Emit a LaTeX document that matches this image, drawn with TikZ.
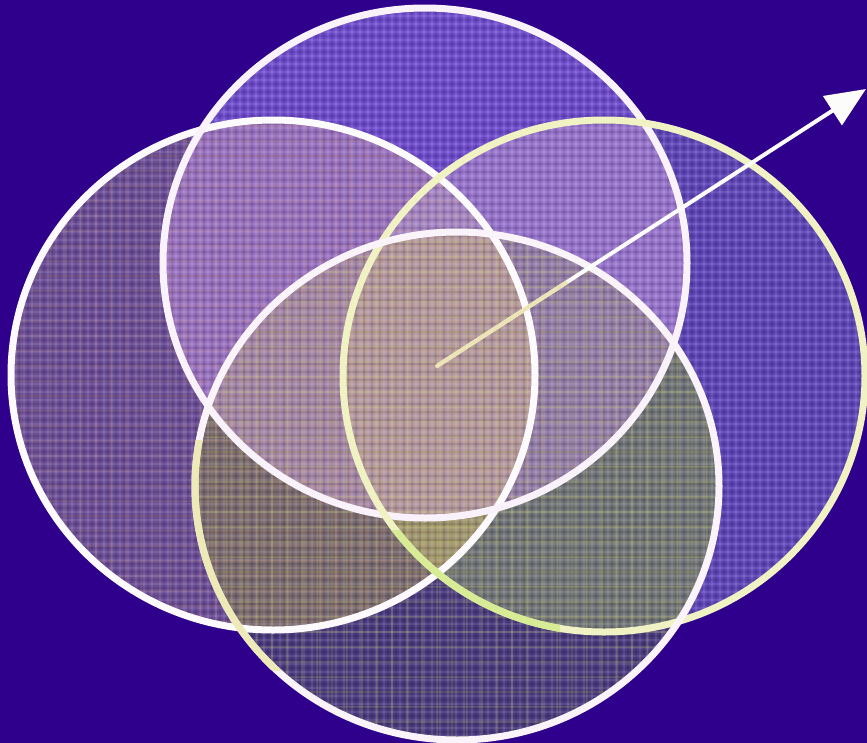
\documentclass[tikz,border=0pt]{standalone}
\usetikzlibrary{arrows.meta,calc}
\definecolor{bgviolet}{RGB}{46,0,140}
% single regions
\definecolor{cL}{RGB}{106,76,152}
\definecolor{cT}{RGB}{110,74,204}
\definecolor{cR}{RGB}{94,68,184}
\definecolor{cB}{RGB}{74,58,128}
% pairs
\definecolor{cLT}{RGB}{152,112,192}
\definecolor{cTR}{RGB}{150,114,204}
\definecolor{cLB}{RGB}{120,104,112}
\definecolor{cRB}{RGB}{112,116,120}
\definecolor{cLR}{RGB}{150,124,170}
\definecolor{cTB}{RGB}{150,124,170}
% triples
\definecolor{cLTR}{RGB}{164,132,196}
\definecolor{cLTB}{RGB}{162,132,166}
\definecolor{cTRB}{RGB}{148,124,168}
\definecolor{cLRB}{RGB}{158,148,112}
% all four
\definecolor{cAll}{RGB}{178,150,160}
% texture threads
\definecolor{threadY}{RGB}{220,220,90}
\definecolor{threadO}{RGB}{230,170,110}
% edges
\definecolor{eL}{RGB}{252,250,252}
\definecolor{eT}{RGB}{250,242,250}
\definecolor{eR}{RGB}{240,242,196}
\definecolor{eRg}{RGB}{216,236,150}
\definecolor{eB}{RGB}{250,244,250}
\definecolor{eBc}{RGB}{238,234,184}
\definecolor{arrowcol}{RGB}{252,252,250}
\definecolor{arrowcream}{RGB}{236,228,180}
\tikzset{
  pL/.style={insert path={(5.46,-7.50) ellipse [x radius=5.24, y radius=5.10]}},
  pT/.style={insert path={(8.50,-5.26) ellipse [x radius=5.24, y radius=5.10]}},
  pR/.style={insert path={(12.08,-7.52) ellipse [x radius=5.22, y radius=5.12]}},
  pB/.style={insert path={(9.14,-9.72) ellipse [x radius=5.24, y radius=5.08]}},
  rim/.style={line width=0.14cm},
  arrowline/.style={draw=arrowcol, line width=0.08cm,
    -{Triangle[length=0.8cm, width=0.68cm]}},
  arrowfade/.style={draw=arrowcream, line width=0.08cm, line cap=round}
}
\begin{document}
\begin{tikzpicture}
\fill[bgviolet] (0,0) rectangle (17.34,-14.86);
\useasboundingbox (0,0) rectangle (17.34,-14.86);
% singles
\fill[cL, pL];
\fill[cT, pT];
\fill[cR, pR];
\fill[cB, pB];
% pairs
\begin{scope}\clip[pL]; \fill[cLT, pT];\end{scope}
\begin{scope}\clip[pL]; \fill[cLR, pR];\end{scope}
\begin{scope}\clip[pL]; \fill[cLB, pB];\end{scope}
\begin{scope}\clip[pT]; \fill[cTR, pR];\end{scope}
\begin{scope}\clip[pT]; \fill[cTB, pB];\end{scope}
\begin{scope}\clip[pR]; \fill[cRB, pB];\end{scope}
% triples
\begin{scope}\clip[pL]; \clip[pT]; \fill[cLTR, pR];\end{scope}
\begin{scope}\clip[pL]; \clip[pT]; \fill[cLTB, pB];\end{scope}
\begin{scope}\clip[pT]; \clip[pR]; \fill[cTRB, pB];\end{scope}
\begin{scope}\clip[pL]; \clip[pR]; \fill[cLRB, pB];\end{scope}
% all four
\begin{scope}\clip[pL]; \clip[pT]; \clip[pR]; \fill[cAll, pB];\end{scope}
% woven texture
\begin{scope}
  \clip[pL] [pT] [pR] [pB];
  \foreach \k in {0,...,108} {
    \draw[white, opacity=0.10, line width=0.03cm] (\k*0.16,0) -- (\k*0.16,-14.86);
    \draw[black, opacity=0.10, line width=0.03cm] (\k*0.16+0.08,0) -- (\k*0.16+0.08,-14.86);
  }
  \foreach \k in {0,...,93} {
    \draw[white, opacity=0.10, line width=0.03cm] (0,-\k*0.16) -- (17.34,-\k*0.16);
    \draw[black, opacity=0.10, line width=0.03cm] (0,-\k*0.16-0.08) -- (17.34,-\k*0.16-0.08);
  }
\end{scope}
\begin{scope}
  \clip[pB];
  \foreach \k in {0,...,57} {
    \draw[threadY, opacity=0.16, line width=0.04cm] (\k*0.3+0.04,0) -- (\k*0.3+0.04,-14.86);
  }
  \foreach \k in {0,...,49} {
    \draw[threadY, opacity=0.16, line width=0.04cm] (0,-\k*0.3-0.04) -- (17.34,-\k*0.3-0.04);
  }
\end{scope}
\begin{scope}
  \clip[pL];
  \foreach \k in {0,...,57} {
    \draw[threadO, opacity=0.12, line width=0.04cm] (\k*0.3+0.12,0) -- (\k*0.3+0.12,-14.86);
  }
  \foreach \k in {0,...,49} {
    \draw[threadO, opacity=0.12, line width=0.04cm] (0,-\k*0.3-0.12) -- (17.34,-\k*0.3-0.12);
  }
\end{scope}
% rims
\draw[rim, eL, pL];
\draw[rim, eT, pT];
\draw[rim, eR, pR];
\begin{scope}
  \clip (7.6,-10.6) rectangle (11.2,-13.2);
  \draw[rim, eRg, pR];
\end{scope}
\draw[rim, eB, pB];
\begin{scope}
  \clip (3.6,-8.8) rectangle (6.2,-13.4);
  \draw[rim, eBc, pB];
\end{scope}
% arrow
\coordinate (arrowstart) at (8.74,-7.32);
\coordinate (arrowtip) at (17.32,-1.78);
\draw[arrowline] (arrowstart) -- (arrowtip);
\draw[arrowfade] (arrowstart) -- ($(arrowstart)!0.3!(arrowtip)$);
\end{tikzpicture}
\end{document}
